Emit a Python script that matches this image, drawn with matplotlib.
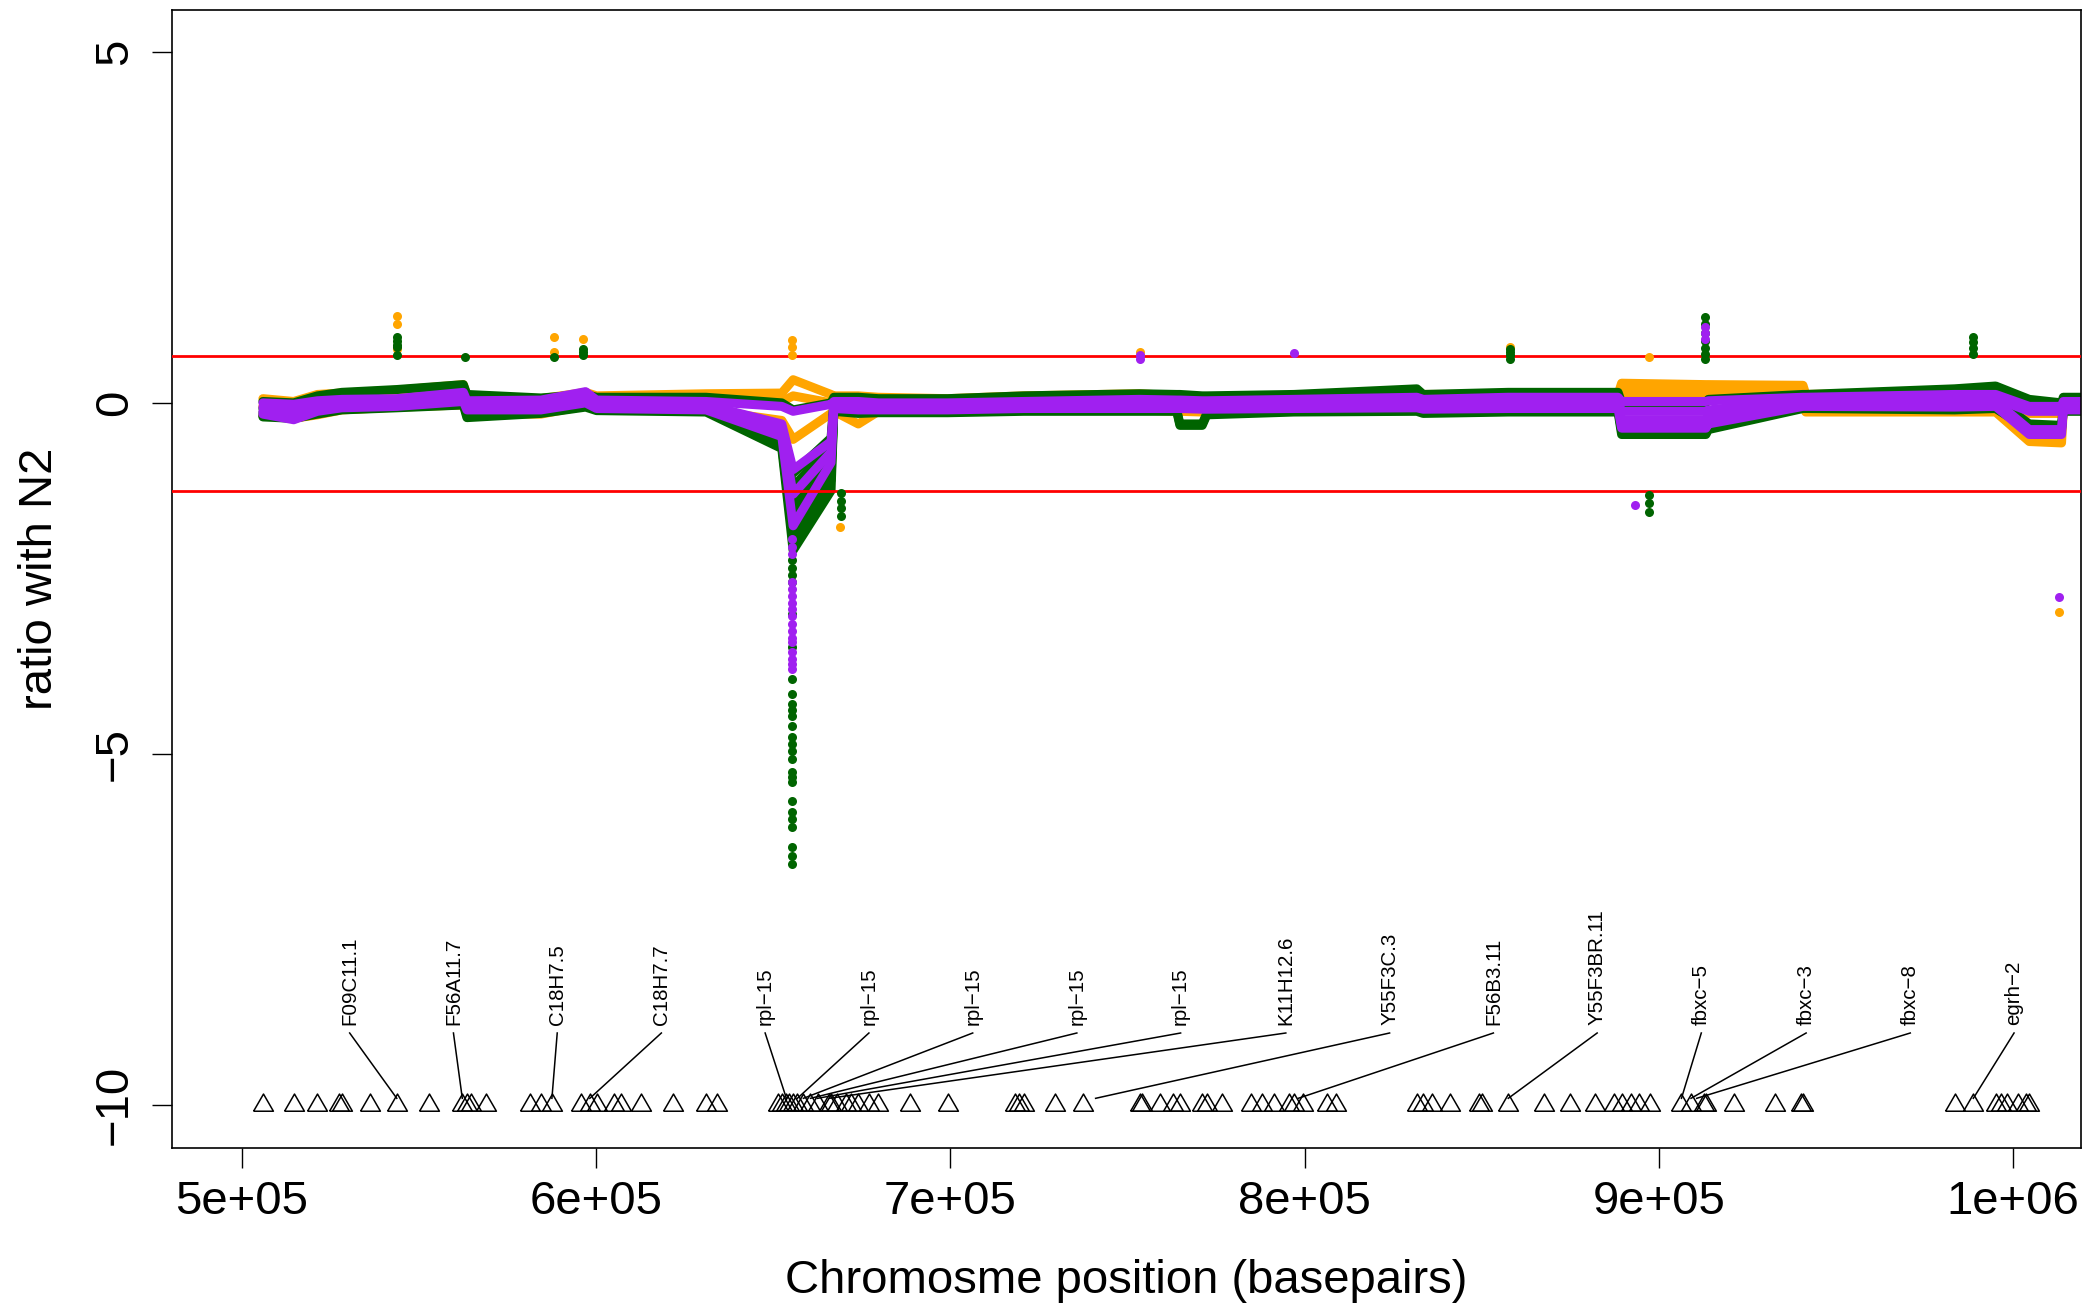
import matplotlib
matplotlib.use('Agg')
import matplotlib.pyplot as plt

plt.rcParams['font.family'] = ['Liberation Sans', 'DejaVu Sans']

# ---------------- data ----------------
# knot positions of the profile lines (bp)
K = [505900, 514600, 521300, 528200, 543700, 562500, 563500, 584400, 597000, 600100,
     631000, 652400, 655600, 666300, 667100, 674000, 679700, 699200, 720700, 753400,
     763900, 764800, 771100, 772400, 797000, 831700, 833500, 857500, 888500, 889500,
     913300, 914000, 940700, 941500, 983500, 995100, 1004600, 1013700, 1014200, 1020000]

# orange samples
O1 = [0.06, 0.02, 0.12, 0.14, 0.18, 0.26, 0.10, 0.06, 0.15, 0.10,
      0.13, 0.14, 0.33, 0.12, 0.10, 0.10, 0.08, 0.06, 0.10, 0.13,
      0.10, 0.10, 0.08, 0.08, 0.10, 0.14, 0.12, 0.12, 0.12, 0.28,
      0.26, 0.26, 0.25, 0.12, 0.15, 0.15, 0.00, 0.00, 0.05, 0.05]
O2 = [-0.05, -0.12, -0.04, 0.00, 0.05, 0.10, -0.03, -0.05, 0.05, 0.00,
      0.02, 0.02, 0.10, 0.00, 0.00, -0.02, -0.03, -0.04, -0.02, 0.00,
      -0.02, -0.02, -0.03, -0.03, -0.02, 0.02, 0.00, 0.00, 0.00, 0.18,
      0.18, 0.18, 0.18, 0.00, 0.00, 0.00, -0.15, -0.15, -0.05, -0.05]
O3 = [-0.18, -0.22, -0.17, -0.10, -0.06, -0.03, -0.16, -0.16, -0.04, -0.08,
      -0.10, -0.25, -0.52, -0.15, -0.12, -0.30, -0.12, -0.12, -0.10, -0.10,
      -0.12, -0.12, -0.13, -0.13, -0.12, -0.10, -0.12, -0.12, -0.12, 0.08,
      0.08, 0.10, 0.12, -0.13, -0.13, -0.13, -0.55, -0.57, -0.10, -0.10]

# dark green samples
G1 = [0.02, 0.00, 0.10, 0.15, 0.19, 0.26, 0.12, 0.07, 0.12, 0.08,
      0.08, 0.00, -0.10, 0.00, 0.08, 0.08, 0.06, 0.06, 0.10, 0.13,
      0.12, 0.12, 0.10, 0.10, 0.12, 0.20, 0.12, 0.15, 0.15, 0.00,
      0.00, 0.05, 0.12, 0.12, 0.20, 0.24, 0.05, 0.00, 0.08, 0.08]
G2 = [-0.08, -0.12, -0.05, 0.00, 0.04, 0.10, -0.05, -0.05, 0.03, -0.02,
      -0.03, -0.35, -1.00, -0.50, 0.00, -0.02, -0.02, -0.02, 0.00, 0.02,
      0.00, 0.00, -0.02, -0.02, 0.00, 0.05, 0.00, 0.03, 0.03, -0.28,
      -0.28, -0.22, 0.05, 0.05, 0.10, 0.12, -0.10, -0.10, 0.00, 0.00]
G3 = [-0.14, -0.18, -0.10, -0.04, 0.00, 0.06, -0.12, -0.10, -0.02, -0.06,
      -0.07, -0.45, -1.40, -0.70, -0.05, -0.07, -0.08, -0.08, -0.06, -0.05,
      -0.06, -0.06, -0.08, -0.08, -0.06, -0.03, -0.06, -0.05, -0.05, -0.34,
      -0.34, -0.28, 0.00, 0.00, 0.02, 0.05, -0.30, -0.32, -0.05, -0.05]
G4 = [-0.18, -0.22, -0.14, -0.08, -0.05, 0.00, -0.18, -0.13, -0.04, -0.09,
      -0.10, -0.55, -1.80, -0.95, -0.10, -0.12, -0.12, -0.12, -0.10, -0.10,
      -0.10, -0.30, -0.30, -0.15, -0.10, -0.08, -0.12, -0.10, -0.10, -0.40,
      -0.40, -0.34, -0.05, -0.05, -0.07, -0.04, -0.35, -0.35, -0.10, -0.10]
G5 = [-0.20, -0.22, -0.16, -0.10, -0.07, -0.03, -0.21, -0.15, -0.06, -0.11,
      -0.13, -0.65, -2.10, -1.25, -0.12, -0.15, -0.14, -0.14, -0.12, -0.12,
      -0.12, -0.32, -0.32, -0.17, -0.13, -0.12, -0.15, -0.13, -0.13, -0.45,
      -0.45, -0.38, -0.08, -0.08, -0.10, -0.08, -0.38, -0.38, -0.12, -0.12]

# purple samples
P1 = [0.00, -0.02, 0.03, 0.05, 0.06, 0.15, 0.03, 0.04, 0.16, 0.04,
      0.02, -0.05, -0.12, -0.02, 0.02, 0.02, 0.00, 0.00, 0.02, 0.05,
      0.04, 0.04, 0.03, 0.03, 0.05, 0.08, 0.05, 0.08, 0.08, 0.02,
      0.02, 0.03, 0.08, 0.08, 0.12, 0.12, -0.05, -0.05, 0.02, 0.02]
P2 = [-0.06, -0.10, -0.04, 0.00, 0.02, 0.10, -0.02, -0.02, 0.10, 0.00,
      -0.03, -0.30, -0.95, -0.55, 0.00, -0.02, -0.03, -0.03, -0.01, 0.00,
      -0.01, -0.01, -0.02, -0.02, 0.00, 0.02, 0.00, 0.02, 0.02, -0.12,
      -0.12, -0.10, 0.03, 0.03, 0.06, 0.06, -0.12, -0.12, -0.02, -0.02]
P3 = [-0.12, -0.16, -0.08, -0.04, -0.02, 0.05, -0.06, -0.06, 0.05, -0.04,
      -0.07, -0.38, -1.30, -0.70, -0.04, -0.06, -0.07, -0.07, -0.05, -0.04,
      -0.05, -0.05, -0.06, -0.06, -0.04, -0.03, -0.05, -0.04, -0.04, -0.24,
      -0.24, -0.20, -0.02, -0.02, 0.01, 0.02, -0.38, -0.38, -0.06, -0.06]
P4 = [-0.16, -0.24, -0.12, -0.07, -0.05, 0.02, -0.10, -0.10, 0.00, -0.08,
      -0.10, -0.48, -1.75, -0.85, -0.08, -0.10, -0.10, -0.10, -0.08, -0.08,
      -0.08, -0.08, -0.09, -0.09, -0.08, -0.07, -0.09, -0.08, -0.08, -0.36,
      -0.36, -0.30, -0.05, -0.05, -0.06, -0.05, -0.45, -0.45, -0.10, -0.10]

# extra green samples covering only the rpl-15 dip region
K_dip = [631000, 652400, 655600, 666300, 667100, 674000]
G6 = [-0.05, -0.40, -1.20, -0.60, -0.03, -0.05]
G7 = [-0.08, -0.50, -1.60, -0.82, -0.08, -0.10]
G8 = [-0.10, -0.60, -1.95, -1.10, -0.10, -0.12]

# outlier points
orange_px = [543900, 543900, 543900, 588100, 588100, 596300, 655200, 655200, 655200,
             668900, 753400, 857900, 897300, 1013000]
orange_py = [1.23, 1.13, 0.77, 0.94, 0.73, 0.91, 0.90, 0.80, 0.68,
             -1.76, 0.73, 0.80, 0.66, -2.97]

green_px = [543900, 543900, 543900, 543900, 543900, 562900, 588100, 596300, 596300, 596300,
            655200, 655200, 655200, 655200, 655200, 655200, 655200, 655200, 655200, 655200,
            655200, 655200, 655200, 655200, 655200, 655200, 655200, 655200, 655200, 655200,
            655200, 655200, 655200, 655200, 655200, 655200,
            669100, 669100, 669100, 669100,
            857900, 857900, 857900, 857900,
            897300, 897300, 897300,
            913000, 913000, 913000, 913000, 913000, 913000, 913000,
            988800, 988800, 988800, 988800]
green_py = [0.94, 0.88, 0.83, 0.80, 0.68, 0.66, 0.66, 0.77, 0.72, 0.68,
            -2.23, -2.35, -2.45, -2.55, -3.00, -3.47, -3.93, -4.15, -4.29, -4.37,
            -4.46, -4.60, -4.75, -4.85, -4.95, -5.07, -5.25, -5.33, -5.40, -5.67,
            -5.83, -5.93, -6.04, -6.32, -6.45, -6.56,
            -1.28, -1.40, -1.50, -1.61,
            0.77, 0.72, 0.68, 0.63,
            -1.31, -1.43, -1.55,
            1.22, 1.12, 1.00, 0.88, 0.78, 0.70, 0.63,
            0.94, 0.86, 0.78, 0.70]

purple_px = [655200, 655200, 655200, 655200, 655200, 655200, 655200, 655200, 655200,
             655200, 655200, 655200, 655200, 655200, 655200, 655200, 655200,
             753400, 753400, 796900, 893400, 913000, 913000, 913000, 1013000]
purple_py = [-1.94, -2.05, -2.15, -2.55, -2.65, -2.75, -2.85, -2.94, -3.04,
             -3.15, -3.25, -3.35, -3.41, -3.55, -3.65, -3.72, -3.79,
             0.68, 0.63, 0.71, -1.45, 1.08, 1.00, 0.91, -2.77]

# gene positions (triangles at y = -10)
genes = [505900, 514600, 521300, 527300, 528200, 536100, 543700, 552800, 562200, 563500,
         564600, 569000, 581200, 584400, 587500, 595700, 598200, 600100, 605100, 607000,
         612700, 621600, 631000, 634200, 651200, 652400, 653700, 654300, 655500, 656800,
         658500, 660500, 662500, 665800, 666300, 668000, 670500, 672000, 674000, 677100,
         679700, 688500, 699200, 718100, 719400, 720700, 729500, 737400, 753400, 754100,
         759100, 762900, 764800, 771100, 772400, 776800, 785000, 788100, 791300, 795700,
         797000, 799500, 806400, 809000, 831700, 833500, 836100, 841100, 849300, 850000,
         857500, 867600, 874800, 882100, 887400, 889500, 892200, 894300, 897500, 906400,
         909100, 912800, 913300, 921200, 932800, 940200, 940700, 983500, 988800, 995100,
         996700, 998300, 1001500, 1003600, 1004600]

label_names = ['F09C11.1', 'F56A11.7', 'C18H7.5', 'C18H7.7', 'rpl\u221215', 'rpl\u221215',
               'rpl\u221215', 'rpl\u221215', 'rpl\u221215', 'K11H12.6', 'Y55F3C.3', 'F56B3.11',
               'Y55F3BR.11', 'fbxc\u22125', 'fbxc\u22123', 'fbxc\u22128', 'egrh\u22122']
label_x = [530400, 559700, 589000, 618400, 647700, 677000, 706300, 735700, 765000,
           794700, 824000, 853300, 882600, 912000, 941600, 971000, 1000300]
label_target = [543700, 562200, 587500, 598200, 653700, 656800, 658500, 660500, 662500,
                665800, 741000, 798200, 857500, 906400, 909100, 910700, 988800]

thresholds = [0.664, -1.25]

x_ticks = [500000, 600000, 700000, 800000, 900000, 1000000]
x_tick_labels = ['5e+05', '6e+05', '7e+05', '8e+05', '9e+05', '1e+06']
y_ticks = [-10, -5, 0, 5]
y_tick_labels = ['\u221210', '\u22125', '0', '5']

# ---------------- drawing ----------------
ORANGE = '#FFA500'
GREEN = '#006400'
PURPLE = '#A020F0'

W, H = 2086, 1306
fig = plt.figure(figsize=(W / 100, H / 100), dpi=100)
ax = fig.add_axes([172 / W, 1 - 1147.5 / H, (2081 - 172) / W, (1147.5 - 9.5) / H])

line_kw = dict(lw=6.5, solid_capstyle='round', solid_joinstyle='round', zorder=2)
for s in (O1, O2, O3):
    ax.plot(K, s, color=ORANGE, **line_kw)
for s in (G1, G2, G3, G4, G5):
    ax.plot(K, s, color=GREEN, **line_kw)
for s in (G6, G7, G8):
    ax.plot(K_dip, s, color=GREEN, **line_kw)
for s in (P1, P2, P3, P4):
    ax.plot(K, s, color=PURPLE, **line_kw)

for t in thresholds:
    ax.axhline(t, color='#FF0000', lw=2.0, zorder=3)

dot_kw = dict(linestyle='none', marker='o', markersize=6.5, markeredgewidth=0, zorder=4)
ax.plot(orange_px, orange_py, color=ORANGE, **dot_kw)
ax.plot(green_px, green_py, color=GREEN, **dot_kw)
ax.plot(purple_px, purple_py, color=PURPLE, **dot_kw)

tri = [(-1.0, -0.577), (1.0, -0.577), (0.0, 1.155), (-1.0, -0.577)]
ax.plot(genes, [-10] * len(genes), linestyle='none', marker=tri, markersize=16.5,
        markerfacecolor='none', markeredgecolor='black', markeredgewidth=1.1, zorder=5)

for name, lx, tx in zip(label_names, label_x, label_target):
    ax.plot([lx, tx], [-8.97, -9.9], color='black', lw=1.1, zorder=5)
    ax.text(lx, -8.86, name, rotation=90, rotation_mode='anchor', ha='left', va='center',
            fontsize=14.8, zorder=6)

ax.set_xlim(480240, 1019200)
ax.set_ylim(-10.6, 5.6)

for sp in ax.spines.values():
    sp.set_linewidth(1.2)

ax.tick_params(axis='both', length=14.4, width=1.0, labelsize=34)
ax.tick_params(axis='x', pad=9)
ax.tick_params(axis='y', pad=18)
ax.set_xticks(x_ticks, x_tick_labels)
ax.set_yticks(y_ticks, y_tick_labels, rotation=90, rotation_mode='anchor',
              ha='center', va='baseline')

fig.text(52 / W, 1 - 578.5 / H, 'ratio with N2', rotation=90, rotation_mode='anchor',
         ha='center', va='baseline', fontsize=34)
fig.text(1126.5 / W, 13 / H, 'Chromosme position (basepairs)', ha='center', va='baseline',
         fontsize=34)

fig.savefig('out.png', dpi=100)
